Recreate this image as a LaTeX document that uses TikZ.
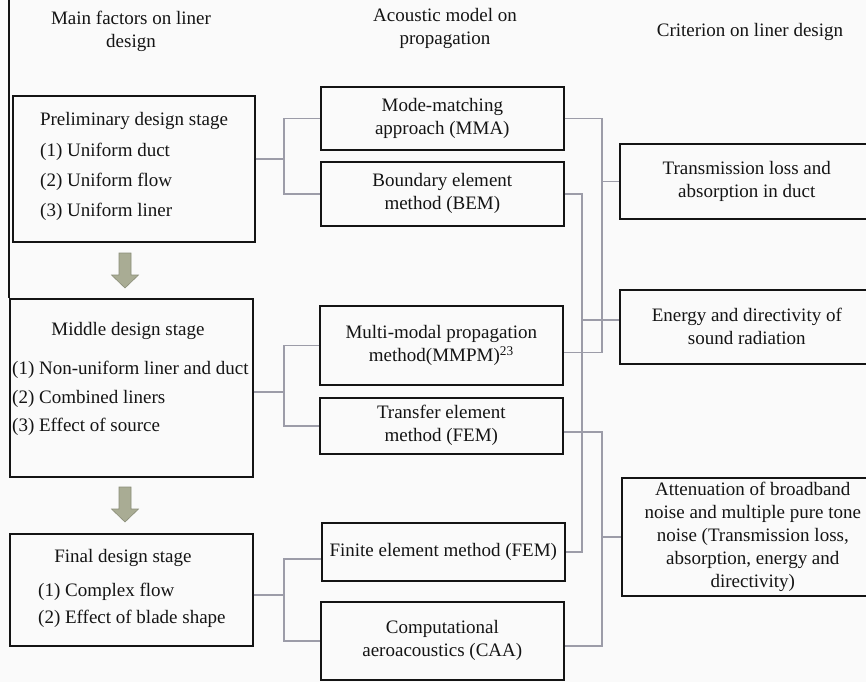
\documentclass[tikz,border=0pt]{standalone}
\usepackage{fontspec}
\setmainfont{Liberation Serif}
\usepackage{xcolor}
\usepackage{tikz}
\usetikzlibrary{positioning,calc}
\definecolor{paper}{HTML}{FAFAFA}
\definecolor{ink}{HTML}{141414}
\definecolor{wire}{HTML}{9C9CA8}
\definecolor{olive}{HTML}{A9AC94}
\definecolor{oliveline}{HTML}{8A8D78}
\newcommand{\stagearrow}[1]{%
  \draw[draw=oliveline, fill=olive, line width=0.6pt]
    ($(#1)+(-6,0)$) -- ++(12,0) -- ++(0,22) -- ++(7.5,0) -- ++(-13.5,13)
    -- ++(-13.5,-13) -- ++(7.5,0) -- cycle;}

\begin{document}
\begin{tikzpicture}[
  x=1pt, y=-1pt,
  font=\fontsize{19}{23}\selectfont,
  every node/.style = {text=ink},
  head/.style  = {align=center, inner sep=0pt},
  stage/.style = {draw=ink, line width=1.6pt, anchor=north west, inner sep=0pt},
  title/.style = {inner sep=0pt},
  item/.style  = {anchor=west, align=left, inner sep=0pt,
                  font=\fontsize{19}{#1}\selectfont},
  item/.default = 29,
  model/.style = {draw=ink, line width=1.6pt, anchor=north west, align=center,
                  inner sep=0pt, minimum width=243},
  crit/.style  = {draw=ink, line width=1.6pt, anchor=north west, align=center,
                  inner sep=0pt, minimum width=254},
  wire/.style  = {draw=wire, line width=1.5pt},
]
\useasboundingbox (0,0) rectangle (866,682);
\fill[paper] (0,0) rectangle (866,682);
\clip (0,0) rectangle (866,682);

% ---- column heads ------------------------------------------------------
\node[head] (h1) at (131,31) {Main factors on liner\\design};
\node[head] (h2) at (445,28) {Acoustic model on\\propagation};
\node[head] (h3) at (750,32) {Criterion on liner design};

% ---- design stages -----------------------------------------------------
\node[stage, minimum width=242, minimum height=146] (prelim) at (12,95) {};
\node[title] (prelim-t) at (134,121) {Preliminary design stage};
\node[item=30] (prelim-l) at (40,182) {(1) Uniform duct\\(2) Uniform flow\\(3) Uniform liner};

\node[stage, minimum width=243, minimum height=178] (middle) at (9,298) {};
\node[title] (middle-t) at (128,331) {Middle design stage};
\node[item=28.5] (middle-l) at (12,398.5) {(1) Non-uniform liner and duct\\(2) Combined liners\\(3) Effect of source};

\node[stage, minimum width=243, minimum height=112] (final) at (9,533) {};
\node[title] (final-t) at (123,558) {Final design stage};
\node[item=27] (final-l) at (38,605.5) {(1) Complex flow\\(2) Effect of blade shape};

\coordinate (edge) at (9,0);
\draw[draw=ink, line width=1.2pt] (edge) -- (middle.north west);

\stagearrow{125,253}
\stagearrow{125,487}

% ---- acoustic models ---------------------------------------------------
\node[model, minimum height=63] (mma)  at (320,86)  {Mode-matching\\approach (MMA)};
\node[model, minimum height=64] (bem)  at (320,161) {Boundary element\\method (BEM)};
\node[model, minimum height=79] (mmpm) at (319,305) {Multi-modal propagation\\method(MMPM)\textsuperscript{23}};
\node[model, minimum height=56] (tem)  at (319,397) {Transfer element\\method (FEM)};
\node[model, minimum height=58] (fem)  at (321,522) {Finite element method (FEM)};
\node[model, minimum height=78] (caa)  at (320,601) {Computational\\aeroacoustics (CAA)};

% ---- criteria ----------------------------------------------------------
\node[crit, minimum height=75]  (tl)  at (619,143) {Transmission loss and\\absorption in duct};
\node[crit, minimum height=74]  (edr) at (619,289) {Energy and directivity of\\sound radiation};
\node[crit, minimum height=118, minimum width=262] (att) at (621,477)
  {Attenuation of broadband\\noise and multiple pure tone\\noise (Transmission loss,\\absorption, energy and\\directivity)};

% ---- stage to model brackets -------------------------------------------
\coordinate (forkA) at (284,159);
\coordinate (forkB) at (284,392);
\coordinate (forkC) at (284,595);
\coordinate (fem-in) at ($(fem.west)+(0,7)$);
\draw[wire] (prelim.east |- forkA) -- (forkA);
\draw[wire] (mma.west) -| (forkA) |- (bem.west);
\draw[wire] (middle.east |- forkB) -- (forkB);
\draw[wire] (mmpm.west) -| (forkB) |- (tem.west);
\draw[wire] (final.east |- forkC) -- (forkC);
\draw[wire] (fem-in) -| (forkC) |- (caa.west);

% ---- model to criterion buses ------------------------------------------
\coordinate (busA) at (602,0);
\coordinate (busB) at (582,0);
\coordinate (mmpm-out) at ($(mmpm.east)+(0,7)$);
\coordinate (tem-out)  at ($(tem.east)+(0,6)$);
\coordinate (caa-out)  at ($(caa.east)+(0,5)$);
\coordinate (edr-in)   at ($(edr.west)+(0,-7)$);
\draw[wire] (mma.east) -| (busA |- mmpm-out) -- (mmpm-out);
\draw[wire] (busA |- tl.west) -- (tl.west);
\draw[wire] (bem.east) -| (busB |- fem.east) -- (fem.east);
\draw[wire] (busB |- edr-in) -- (edr-in);
\draw[wire] (tem-out) -| (busA |- caa-out) -- (caa-out);
\draw[wire] (busA |- att.west) -- (att.west);

\end{tikzpicture}
\end{document}
